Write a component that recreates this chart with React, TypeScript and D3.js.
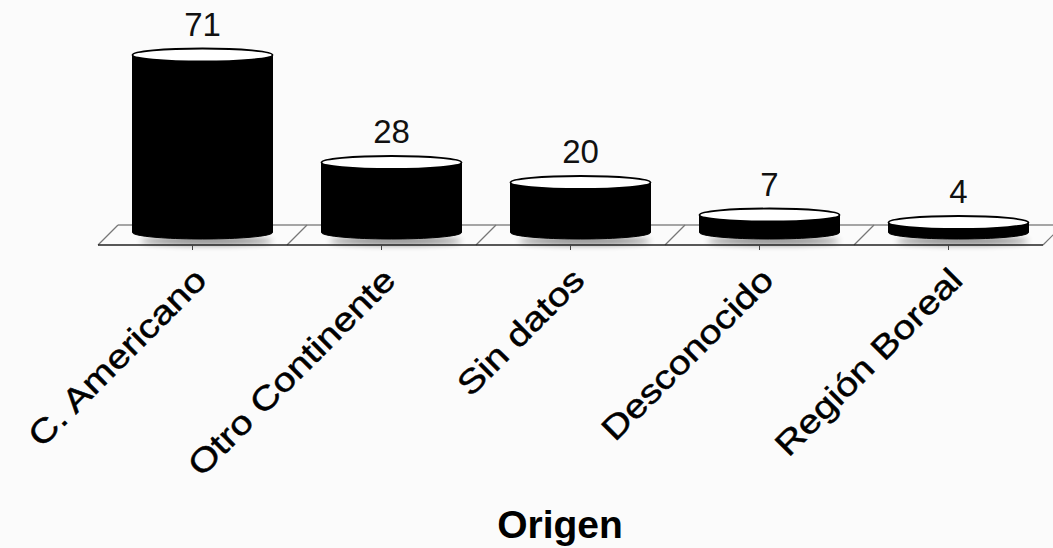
import React from "react";
import * as d3 from "d3";

// Frequencies by origin
const categories = ["C. Americano", "Otro Continente", "Sin datos", "Desconocido", "Región Boreal"];
const counts = [71, 28, 20, 7, 4];
const axisTitle = "Origen";

const W = 1053;
const H = 548;

// Floor (pseudo-3D depth plane)
const floorBackY = 225;
const floorFrontY = 245;
const floorBackX0 = 118;
const floorFrontX0 = 98;
const floorWidth = 945;

const band = d3
  .scaleBand<string>()
  .domain(categories)
  .range([0, floorWidth])
  .paddingInner(0)
  .paddingOuter(0);

const depthShift = (floorBackX0 - floorFrontX0) / 2;
const midX0 = floorFrontX0 + depthShift;

const y = d3.scaleLinear().domain([0, 71]).range([232.5, 55]);

const rx = 70;
const ry = 6.5;

function cylinderBody(cx: number, top: number, base: number) {
  const p = d3.path();
  p.moveTo(cx - rx, top);
  p.lineTo(cx - rx, base);
  // lower half of the base ellipse
  const n = 40;
  for (let i = 0; i <= n; i++) {
    const a = Math.PI - (Math.PI * i) / n;
    p.lineTo(cx + rx * Math.cos(a), base + ry * Math.sin(a));
  }
  p.lineTo(cx + rx, top);
  p.closePath();
  return p.toString();
}

export default function App() {
  const bw = band.bandwidth();
  return (
    <svg
      width={W}
      height={H}
      viewBox={`0 0 ${W} ${H}`}
      style={{ position: "absolute", left: 0, top: 0, background: "#fbfbfb" }}
      fontFamily="'Liberation Sans', Arial, Helvetica, sans-serif"
    >
      <defs>
        <filter id="soft" x="-20%" y="-200%" width="140%" height="500%">
          <feGaussianBlur stdDeviation="3" />
        </filter>
      </defs>

      {/* floor back edge */}
      <line
        x1={floorBackX0}
        x2={floorBackX0 + floorWidth}
        y1={floorBackY}
        y2={floorBackY}
        stroke="#888"
        strokeWidth={1.5}
      />
      {/* floor dividers */}
      {d3.range(categories.length + 1).map((i) => {
        const xb = floorBackX0 + i * bw;
        const xf = floorFrontX0 + i * bw;
        return (
          <line key={`d${i}`} x1={xb} y1={floorBackY} x2={xf} y2={floorFrontY} stroke="#777" strokeWidth={1.2} />
        );
      })}

      {/* soft shadows under the cylinders */}
      {categories.map((c, i) => {
        const cx = midX0 + (band(c) ?? 0) + bw / 2;
        return (
          <ellipse
            key={`s${i}`}
            cx={cx + 4}
            cy={y(0) + ry + 2}
            rx={rx - 4}
            ry={4}
            fill="#000"
            opacity={0.45}
            filter="url(#soft)"
          />
        );
      })}

      {/* floor front edge */}
      <line
        x1={floorFrontX0}
        x2={floorFrontX0 + floorWidth}
        y1={floorFrontY}
        y2={floorFrontY}
        stroke="#222"
        strokeWidth={1.6}
      />
      {/* tick marks */}
      {categories.map((c, i) => {
        const tx = floorFrontX0 + (band(c) ?? 0) + bw / 2;
        return <line key={`t${i}`} x1={tx} x2={tx} y1={floorFrontY} y2={floorFrontY + 5} stroke="#444" strokeWidth={1} />;
      })}

      {/* cylinders */}
      {categories.map((c, i) => {
        const cx = midX0 + (band(c) ?? 0) + bw / 2;
        const top = y(counts[i]);
        const base = y(0);
        return (
          <g key={`b${i}`}>
            <path d={cylinderBody(cx, top, base)} fill="#000" stroke="#000" strokeWidth={1} />
            <ellipse cx={cx} cy={top} rx={rx} ry={ry} fill="#fff" stroke="#000" strokeWidth={1.8} />
            <text x={cx} y={top - ry - 13} textAnchor="middle" fontSize={33} fill="#111">
              {counts[i]}
            </text>
          </g>
        );
      })}

      {/* category labels, slanted and widened along the baseline */}
      {categories.map((c, i) => {
        const tx = floorFrontX0 + (band(c) ?? 0) + bw / 2;
        const ax = tx + 16;
        const ay = 282;
        return (
          <text
            key={`l${i}`}
            x={0}
            y={0}
            transform={`translate(${ax} ${ay}) rotate(-45) scale(1.19 1)`}
            textAnchor="end"
            fontSize={33}
            fill="#000"
            stroke="#000"
            strokeWidth={0.5}
          >
            {c}
          </text>
        );
      })}

      {/* axis title */}
      <text x={560} y={538} textAnchor="middle" fontSize={39} fontWeight="bold" fill="#000">
        {axisTitle}
      </text>
    </svg>
  );
}
